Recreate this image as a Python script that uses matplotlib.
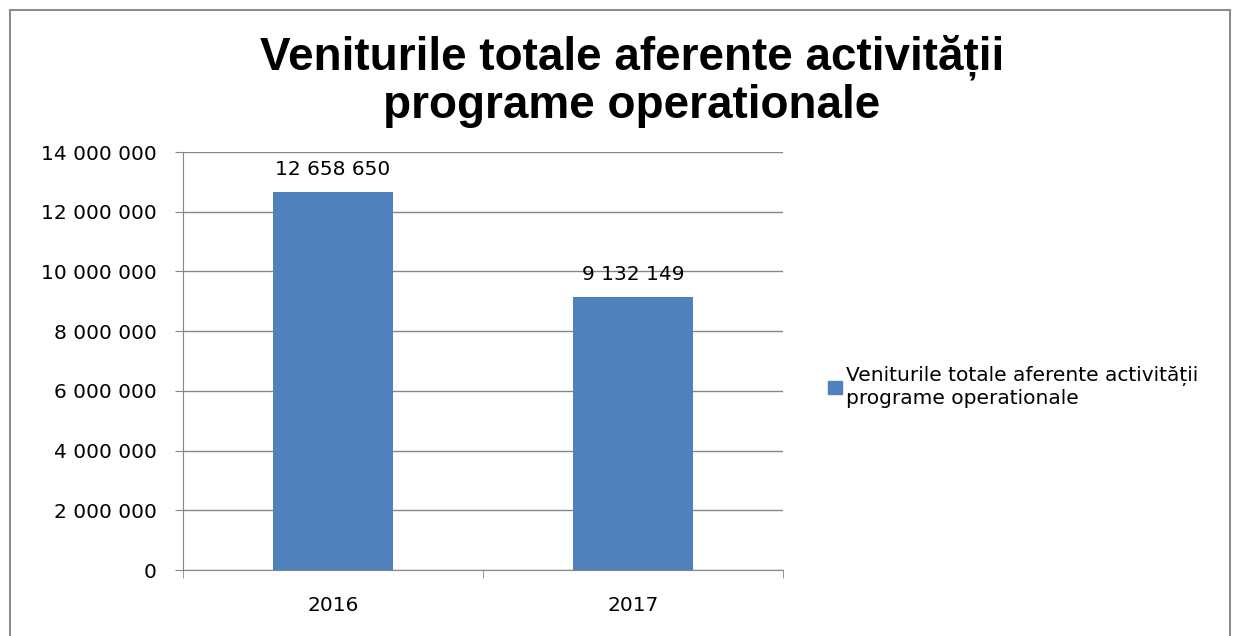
import matplotlib
matplotlib.use("Agg")
import matplotlib.pyplot as plt
from matplotlib.lines import Line2D
from matplotlib.patches import Patch

years = ["2016", "2017"]
venituri = [12658650, 9132149]
value_labels = ["12 658 650", "9 132 149"]
y_ticks = [0, 2000000, 4000000, 6000000, 8000000, 10000000, 12000000, 14000000]
y_tick_labels = ["0", "2 000 000", "4 000 000", "6 000 000", "8 000 000",
                 "10 000 000", "12 000 000", "14 000 000"]
series_name = "Veniturile totale aferente activității\nprograme operationale"
title = "Veniturile totale aferente activității\nprograme operationale"

BAR_COLOR = "#4F81BD"
GRID_COLOR = "#868686"
FONT = ["DejaVu Sans"]
FS = 14.5

fig = plt.figure(figsize=(12.37, 6.36), dpi=100)
ax = fig.add_axes([183 / 1237, 66 / 636, 600 / 1237, 418 / 636])

x = list(range(len(years)))
bars = ax.bar(x, venituri, width=0.4, color=BAR_COLOR, zorder=3)

for i in x:
    ax.text(i, venituri[i] + 450000, value_labels[i], ha="center", va="bottom",
            fontsize=FS, family=FONT, color="#000000")

ax.set_xlim(-0.5, 1.5)
ax.set_ylim(0, 14000000)
ax.set_yticks(y_ticks)
ax.set_yticklabels(y_tick_labels, family=FONT, fontsize=FS)
ax.set_xticks(x)
ax.set_xticklabels(years, family=FONT, fontsize=FS)
ax.tick_params(axis="x", length=0, pad=19)
ax.set_xticks([-0.5, 0.5, 1.5], minor=True)
ax.tick_params(axis="x", which="minor", length=6, color=GRID_COLOR, direction="out")
ax.tick_params(axis="y", length=6, color=GRID_COLOR, pad=13)

ax.grid(axis="y", color=GRID_COLOR, linewidth=1, zorder=0)
for s in ["top", "right"]:
    ax.spines[s].set_visible(False)
ax.spines["left"].set_color(GRID_COLOR)
ax.spines["bottom"].set_color(GRID_COLOR)

fig.text(0.511, 0.945, title, ha="center", va="top", fontsize=33,
         fontweight="bold", family=["Liberation Sans", "DejaVu Sans"],
         linespacing=1.1)

handle = Patch(facecolor=BAR_COLOR, edgecolor=BAR_COLOR)
fig.legend([handle], [series_name], loc="upper left",
           bbox_to_anchor=(818 / 1237, 1 - 356 / 636), frameon=False,
           prop={"family": FONT, "size": FS}, handlelength=0.7,
           handleheight=0.55, handletextpad=0.2, borderpad=0,
           labelspacing=0.6)

# chart border (left, top, right)
fig.add_artist(Line2D([10 / 1237, 10 / 1237], [0, 1 - 10 / 636],
                      transform=fig.transFigure, color="#8c8c8c", linewidth=1.5))
fig.add_artist(Line2D([10 / 1237, 1230 / 1237], [1 - 10 / 636, 1 - 10 / 636],
                      transform=fig.transFigure, color="#8c8c8c", linewidth=1.5))
fig.add_artist(Line2D([1230 / 1237, 1230 / 1237], [0, 1 - 10 / 636],
                      transform=fig.transFigure, color="#8c8c8c", linewidth=1.5))

fig.savefig("out.png", dpi=100)
